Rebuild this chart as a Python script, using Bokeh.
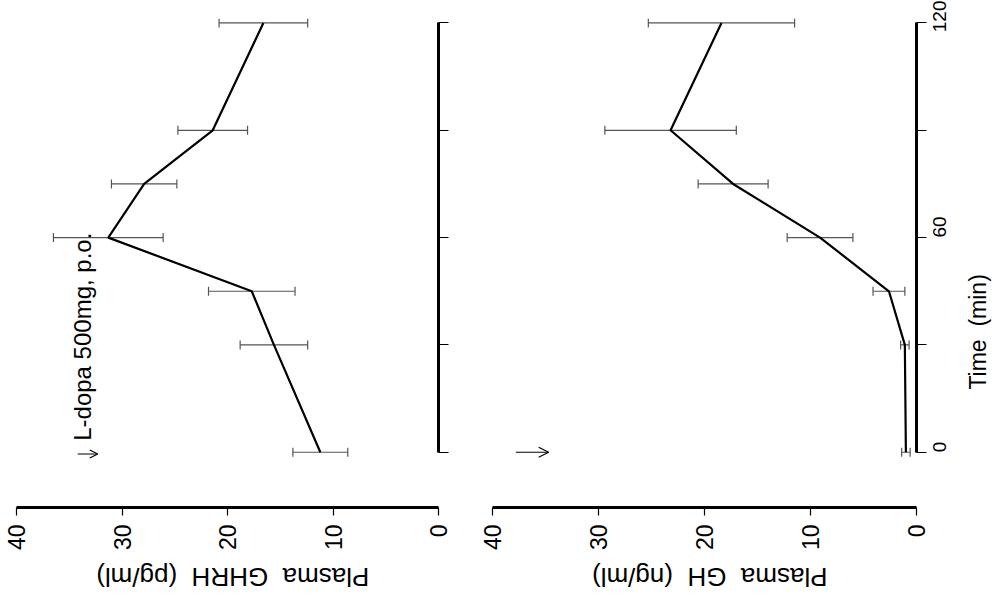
import math
from bokeh.plotting import figure
from bokeh.layouts import row, column
from bokeh.models import (Range1d, FixedTicker, Whisker, TeeHead, ColumnDataSource,
                          Label, Arrow, OpenHead)
from bokeh.embed import file_html
from bokeh.resources import INLINE

# ---- data ----
time_min = [0, 30, 45, 60, 75, 90, 120]
ghrh_mean = [11.2, 15.6, 17.7, 31.3, 27.9, 21.4, 16.6]
ghrh_se = [2.6, 3.2, 4.1, 5.2, 3.1, 3.3, 4.2]
gh_mean = [1.0, 1.1, 2.6, 9.1, 17.3, 23.2, 18.4]
gh_se = [0.4, 0.4, 1.5, 3.1, 3.3, 6.2, 6.9]
value_ticks = [0, 10, 20, 30, 40]
time_ticks = [0, 30, 60, 90, 120]
time_tick_labels = {0: "0", 30: "", 60: "60", 90: "", 120: "120"}
ghrh_title = "Plasma\u00a0 GHRH\u00a0 (pg/ml)"
gh_title = "Plasma\u00a0 GH\u00a0 (ng/ml)"
time_title = "Time\u00a0 (min)"
dose_note = "L-dopa 500mg, p.o."

FONT = "Liberation Sans"
H_MAIN = 553
H_TITLE = 42
FRAME_BOTTOM = 509
Y_RANGE = (-15.45, 121.25)


def bare_figure(width, height, x_range, y_range, bl, br, bt, bb):
    p = figure(width=width, height=height, x_range=x_range, y_range=y_range,
               output_backend="svg", toolbar_location=None,
               x_axis_location=None, y_axis_location=None,
               min_border_left=bl, min_border_right=br, min_border_top=bt,
               min_border_bottom=bb)
    p.grid.visible = False
    p.outline_line_color = None
    p.background_fill_color = "white"
    p.border_fill_color = "white"
    return p


def make_panel(mean, se, width, bl, br, tick_labels):
    xr = Range1d(40, 0)
    yr = Range1d(*Y_RANGE)
    p = figure(width=width, height=H_MAIN, x_range=xr, y_range=yr,
               output_backend="svg", toolbar_location=None,
               x_axis_location="below", y_axis_location="right",
               min_border_left=bl, min_border_right=br, min_border_top=18,
               min_border_bottom=H_MAIN - FRAME_BOTTOM)
    p.grid.visible = False
    p.outline_line_color = None
    p.background_fill_color = "white"
    p.border_fill_color = "white"

    xa = p.xaxis[0]
    xa.ticker = FixedTicker(ticks=value_ticks)
    xa.bounds = (0, 40)
    xa.axis_line_width = 3
    xa.axis_line_color = "black"
    xa.major_tick_out = 8
    xa.major_tick_in = 0
    xa.major_tick_line_width = 1.2
    xa.minor_tick_line_color = None
    xa.major_label_orientation = math.pi / 2
    xa.major_label_standoff = 9
    xa.major_label_text_font = FONT
    xa.major_label_text_font_size = "23px"
    xa.major_label_text_color = "black"

    ya = p.yaxis[0]
    ya.ticker = FixedTicker(ticks=time_ticks)
    ya.bounds = (0, 120)
    ya.axis_line_width = 3
    ya.axis_line_color = "black"
    ya.major_tick_out = 10
    ya.major_tick_in = 0
    ya.major_tick_line_width = 1.2
    ya.minor_tick_line_color = None
    ya.major_label_overrides = tick_labels
    ya.major_label_orientation = math.pi / 2
    ya.major_label_standoff = 13
    ya.major_label_text_font = FONT
    ya.major_label_text_font_size = "19px"
    ya.major_label_text_color = "black"

    lo = [m - s for m, s in zip(mean, se)]
    hi = [m + s for m, s in zip(mean, se)]
    src = ColumnDataSource(dict(t=time_min, m=mean, lo=lo, hi=hi))
    w = Whisker(source=src, base="t", lower="lo", upper="hi", dimension="width",
                line_color="#555555", line_width=1.2,
                upper_head=TeeHead(size=9, line_color="#555555", line_width=1.2),
                lower_head=TeeHead(size=9, line_color="#555555", line_width=1.2))
    p.add_layout(w)
    p.line("m", "t", source=src, line_color="black", line_width=2.2)
    return p, xr, yr


def title_strip(width, xr, bl, br, text):
    t = bare_figure(width, H_TITLE, xr, Range1d(0, 1), bl, br, 0, 0)
    t.add_layout(Label(x=19.5, y=0.45, text=text, angle=math.pi,
                       text_align="center", text_baseline="middle",
                       text_font=FONT, text_font_size="26px", text_color="black"))
    return t


# GHRH panel
p1, xr1, yr1 = make_panel(ghrh_mean, ghrh_se, 468, 16, 30, {t: "" for t in time_ticks})
p1.yaxis[0].major_label_text_font_size = "1px"
p1.yaxis[0].major_label_standoff = 0
p1.add_layout(Arrow(end=OpenHead(size=8, line_width=1.2, line_color="black"),
                    x_start=34.2, y_start=-0.5, x_end=32.3, y_end=-0.5,
                    line_width=1.2, line_color="black"))
p1.add_layout(Label(x=33.7, y=3.2, text=dose_note, angle=math.pi / 2,
                    text_align="left", text_baseline="middle",
                    text_font=FONT, text_font_size="24px", text_color="black"))
t1 = title_strip(468, xr1, 16, 30, ghrh_title)

# GH panel
p2, xr2, yr2 = make_panel(gh_mean, gh_se, 494, 24, 46, time_tick_labels)
p2.add_layout(Arrow(end=OpenHead(size=10, line_width=1.2, line_color="black"),
                    x_start=37.8, y_start=0, x_end=34.7, y_end=0,
                    line_width=1.2, line_color="black"))
t2 = title_strip(494, xr2, 24, 46, gh_title)

# time axis title strip at the right
tf = bare_figure(30, H_MAIN + H_TITLE, Range1d(0, 1), Range1d(*Y_RANGE), 0, 0, 18,
                 H_MAIN + H_TITLE - FRAME_BOTTOM)
tf.add_layout(Label(x=0.5, y=34, text=time_title, angle=math.pi / 2,
                    text_align="center", text_baseline="middle",
                    text_font=FONT, text_font_size="23px", text_color="black"))

layout = row(column(p1, t1), column(p2, t2), tf)
open("out.html", "w").write(file_html(layout, INLINE))
